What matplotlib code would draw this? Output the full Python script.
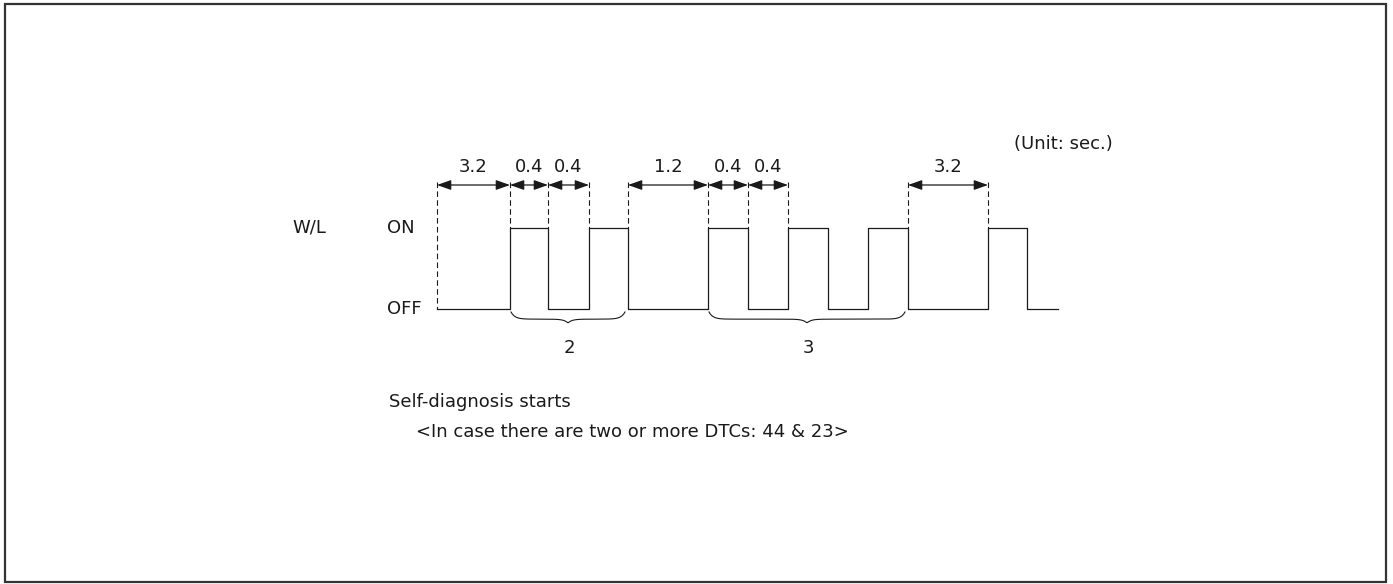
import numpy as np
import matplotlib
matplotlib.use("Agg")
import matplotlib.pyplot as plt
from matplotlib.patches import Rectangle

# W/L signal: state per segment (1 = ON, 0 = OFF) and drawn width of each segment
levels = [0, 1, 0, 1, 0, 1, 0, 1, 0, 1, 0, 1, 0]
widths = [73, 38, 41, 39, 80, 40, 40, 40, 40, 40, 80, 39, 31]

# dimension arrows: (start edge index, end edge index, label)
dim_from = [0, 1, 2, 4, 5, 6, 10]
dim_to = [1, 2, 3, 5, 6, 7, 11]
dim_labels = ["3.2", "0.4", "0.4", "1.2", "0.4", "0.4", "3.2"]

# braces grouping the code digits
brace_from = [1, 5]
brace_to = [4, 10]
brace_labels = ["2", "3"]

plt.rcParams['font.family'] = ['DejaVu Sans']
ink = "#1a1a1a"
fs = 13

fig = plt.figure(figsize=(13.93, 5.84), dpi=100)
ax = fig.add_axes([0, 0, 1, 1])
ax.set_xlim(0, 1393)
ax.set_ylim(584, 0)
ax.axis("off")

ax.add_patch(Rectangle((5, 4), 1381, 578, fill=False, lw=1.6, ec="#333333"))

x0 = 437
y_on, y_off, y_dim = 228, 309, 185
edges = x0 + np.concatenate([[0], np.cumsum(widths)])
ys = [y_on if v else y_off for v in levels]

# step waveform
xs, yy = [], []
for i, y in enumerate(ys):
    xs += [edges[i], edges[i + 1]]
    yy += [y, y]
ax.plot(xs, yy, color=ink, lw=0.9)

# dashed guide lines
guide_edges = sorted(set(dim_from + dim_to))
for e in guide_edges:
    bottom = y_off if e == 0 else y_on
    ax.plot([edges[e], edges[e]], [182, bottom], color=ink, lw=0.8,
            linestyle=(0, (5, 3)))

for a, b, lab in zip(dim_from, dim_to, dim_labels):
    ax.annotate("", xy=(edges[b], y_dim), xytext=(edges[a], y_dim),
                arrowprops=dict(arrowstyle="<|-|>,head_length=0.85,head_width=0.3",
                                color=ink, lw=0.9, mutation_scale=10,
                                shrinkA=0, shrinkB=0))
    ax.text((edges[a] + edges[b]) / 2, 167, lab, ha="center", va="center",
            fontsize=fs, color=ink)


def brace(xa, xb, ytop, h=11):
    t = np.linspace(0, 1, 200)
    xm = (xa + xb) / 2
    x = xa + (xb - xa) * t
    y = np.empty_like(t)
    for i, tt in enumerate(t):
        xx = x[i]
        d_end = min(xx - xa, xb - xx)
        d_mid = abs(xx - xm)
        yv = ytop + h * 0.65 * (1 - np.exp(-d_end / 4))
        yv += h * 0.35 * np.exp(-d_mid / 4)
        y[i] = yv
    return x, y


for a, b, lab in zip(brace_from, brace_to, brace_labels):
    bx, by = brace(edges[a] + 1, edges[b] - 3, 312)
    ax.plot(bx, by, color=ink, lw=0.8)
    ax.text((edges[a] + edges[b]) / 2, 348, lab, ha="center", va="center",
            fontsize=fs, color=ink)

ax.text(292, 228, "W/L", ha="left", va="center", fontsize=fs, color=ink)
ax.text(387, 228, "ON", ha="left", va="center", fontsize=fs, color=ink)
ax.text(387, 309, "OFF", ha="left", va="center", fontsize=fs, color=ink)
ax.text(1113, 144, "(Unit: sec.)", ha="right", va="center", fontsize=fs, color=ink)
ax.text(389, 402, "Self-diagnosis starts", ha="left", va="center",
        fontsize=fs, color=ink)
ax.text(416, 432, "<In case there are two or more DTCs: 44 & 23>", ha="left",
        va="center", fontsize=fs, color=ink)

fig.savefig("out.png", dpi=100, facecolor="white")
